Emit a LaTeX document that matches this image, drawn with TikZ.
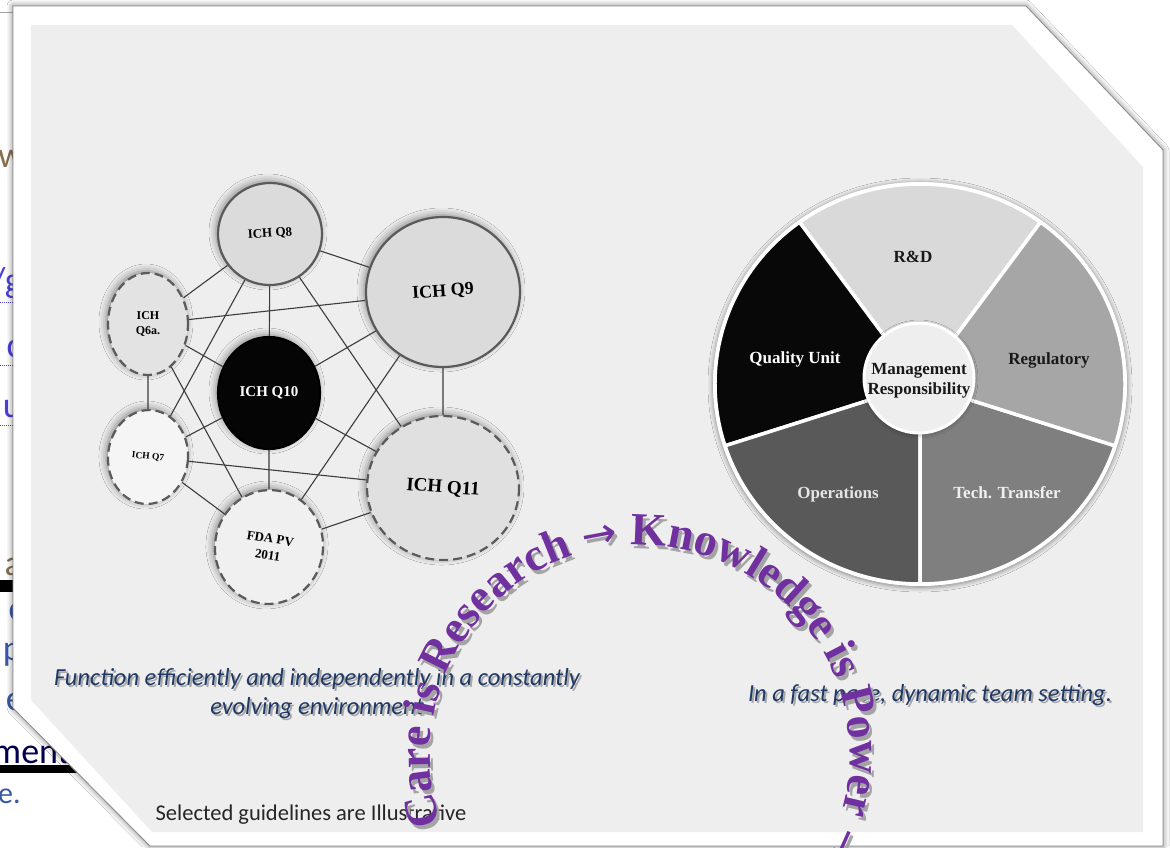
\documentclass[tikz,border=0pt]{standalone}
\usepackage{fontspec}
\setmainfont{Liberation Serif}
\newfontfamily\calfont{Carlito}
\newfontfamily\arcfont{Liberation Serif}
\newfontfamily\arrowfont{DejaVu Sans}
\usetikzlibrary{shapes.geometric,shadows.blur,decorations.text,calc}

\definecolor{panelgrey}{HTML}{EEEEEE}
\definecolor{rimgrey}{HTML}{5A5A5A}
\definecolor{linkgrey}{HTML}{3C3C3C}
\definecolor{navy}{HTML}{1F3864}
\definecolor{arcpurple}{HTML}{7030A0}
\definecolor{arcshade}{HTML}{A4A4A4}
\definecolor{linkblue}{HTML}{4A3FDC}
\definecolor{steelblue}{HTML}{3A58A8}
\definecolor{brownish}{HTML}{8A6E50}
\definecolor{segA}{HTML}{D9D9D9}
\definecolor{segB}{HTML}{A6A6A6}
\definecolor{segC}{HTML}{7F7F7F}
\definecolor{segD}{HTML}{595959}
\definecolor{segE}{HTML}{080808}

% formats for the circular motto
\newcommand{\mottoword}[1]{\arcfont\bfseries\fontsize{46}{46}\selectfont\color{#1}}
\newcommand{\mottoarrow}[1]{\arrowfont\fontsize{42}{46}\selectfont\color{#1}}

\begin{document}
\begin{tikzpicture}[x=1pt,y=-1pt,
  guide/.style={ellipse, inner sep=0pt, draw=rimgrey, line width=2.2pt,
    align=center, text=black,
    blur shadow={shadow xshift=-2pt, shadow yshift=2pt, shadow blur radius=7pt, shadow opacity=45}},
  dashrim/.style={guide, dash pattern=on 9pt off 5pt},
  link/.style={draw=linkgrey, line width=1.1pt},
  gfont/.style={font=\bfseries\fontsize{#1}{#1}\selectfont},
  slice/.style={draw=white, line width=3.5pt, line join=round},
  pielabel/.style={font=\bfseries\fontsize{17}{17}\selectfont, align=center},
  caption/.style={font=\calfont\itshape\fontsize{24.5}{29}\selectfont, align=center, text=navy},
  captionshade/.style={font=\calfont\itshape\fontsize{24.5}{29}\selectfont, align=center, text=black!35},
  frag/.style={font=\calfont\fontsize{36}{36}\selectfont, inner sep=0pt},
  fragline/.style={densely dotted, line width=1pt}
]
\useasboundingbox (0,0) rectangle (1170,847);

% ---------- page behind the frame ----------
\fill[white] (0,0) rectangle (1170,847);
\draw[black!35, line width=0.8pt] (0,12) -- (16,12);
\node[frag, anchor=base east, text=brownish] (fw) at (24,167) {w};
\node[frag, anchor=base east, text=linkblue] (fg) at (22,292) {/g};
\draw[fragline, linkblue] (0,302) -- (16,302);
\node[frag, anchor=base east, text=linkblue] (fc) at (22,357) {c};
\draw[fragline, linkblue] (0,365) -- (16,365);
\node[frag, anchor=base east, text=linkblue] (fu) at (22,417) {u};
\draw[fragline, linkblue] (0,425) -- (16,425);
\node[frag, anchor=base east, text=brownish] (fa) at (22,575) {a};
\fill[black] (0,580) rectangle (20,592);
\node[frag, anchor=base east, text=steelblue] (fc2) at (24,620) {c};
\node[frag, anchor=base east, text=steelblue] (fp) at (22,660) {p};
\node[frag, anchor=base east, text=steelblue] (fe) at (24,710) {e};
\node[frag, anchor=base east, text=black!70!blue] (fment) at (70,763) {ment};
\fill[black] (0,765) rectangle (90,773);
\node[frag, anchor=base west, text=steelblue, font=\calfont\fontsize{30}{30}\selectfont] (fdot) at (-2,803) {e.};

% ---------- octagonal frame and panel ----------
\fill[white, draw=black!45, line width=0.8pt,
  blur shadow={shadow xshift=0pt, shadow yshift=0pt, shadow blur radius=6pt, shadow opacity=55}]
  (13,6) -- (1026,6) -- (1163,150) -- (1163,846) -- (150,846) -- (13,708) -- cycle;
\fill[panelgrey] (31,25) -- (1012,25) -- (1143,167) -- (1143,832) -- (152,832) -- (31,700) -- cycle;

% ---------- network of guidelines ----------
\node[guide, fill=black!14, minimum width=104pt, minimum height=102pt, rotate=4, gfont=13] (q8) at (270,234) {ICH Q8};
\node[guide, fill=black!14, minimum width=154pt, minimum height=150pt, rotate=4, gfont=18] (q9) at (443,292) {ICH Q9};
\node[dashrim, fill=black!11, minimum width=80pt, minimum height=102pt, gfont=12] (q6a) at (148,324) {ICH\\[3pt]Q6a.};
\node[guide, draw=black, fill=black!98, text=white, minimum width=102pt, minimum height=112pt, gfont=15] (q10) at (269,393) {ICH Q10};
\node[dashrim, fill=black!4, minimum width=80pt, minimum height=94pt, rotate=-5, gfont=9.5] (q7) at (148,457) {ICH Q7};
\node[dashrim, fill=black!12, minimum width=152pt, minimum height=144pt, rotate=-4, gfont=19] (q11) at (443,488) {ICH Q11};
\node[dashrim, fill=black!6, minimum width=108pt, minimum height=114pt, rotate=-9, gfont=13] (fda) at (269,547) {FDA PV\\[4pt]2011};

\draw[link] (q8) -- (q9);
\draw[link] (q8) -- (q6a);
\draw[link] (q8) -- (q10);
\draw[link] (q8) -- (q7);
\draw[link] (q8) -- (q11);
\draw[link] (q6a) -- (q9);
\draw[link] (q6a) -- (q10);
\draw[link] (q6a) -- (q7);
\draw[link] (q6a) -- (fda);
\draw[link] (q9) -- (q10);
\draw[link] (q9) -- (q11);
\draw[link] (q9) -- (fda);
\draw[link] (q10) -- (q7);
\draw[link] (q10) -- (q11);
\draw[link] (q10) -- (fda);
\draw[link] (q7) -- (q11);
\draw[link] (q7) -- (fda);
\draw[link] (fda) -- (q11);

% ---------- functions wheel ----------
\coordinate (pc) at (920,384);
\fill[white, blur shadow={shadow xshift=0pt, shadow yshift=-1pt, shadow blur radius=5pt, shadow opacity=50}]
  (pc) ellipse [x radius=207, y radius=202];
\foreach \a/\b/\c in {54/126/segA, 126/198/segE, 198/270/segD, 270/342/segC, 342/414/segB}
  \filldraw[slice, fill=\c] (pc) -- ++({-\a}:205 and 200)
    arc[start angle=-\a, end angle=-\b, x radius=205, y radius=200] -- cycle;
\node[circle, fill=panelgrey, draw=white, line width=3pt, minimum size=110pt, inner sep=0pt,
  blur shadow={shadow xshift=0pt, shadow yshift=-1pt, shadow blur radius=4pt, shadow opacity=50}] (hub) at (919,378) {};
\node[pielabel, text=black!90] (rd) at (913,257) {R\&D};
\node[pielabel, text=white] (qu) at (795,359) {Quality Unit};
\node[pielabel, text=black!90] (reg) at (1049,360) {Regulatory};
\node[pielabel, text=black!10] (ops) at (838,494) {Operations};
\node[pielabel, text=black!6] (tt) at (1007,493) {Tech. Transfer};
\node[pielabel, text=black!90, font=\bfseries\fontsize{17}{20}\selectfont] (mgmt) at (919,381) {Management\\Responsibility};

% ---------- captions ----------
\node[captionshade] (capLs) at (319,696) {Function efficiently and independently in a constantly\\evolving environment};
\node[caption] (capL) at (317,694) {Function efficiently and independently in a constantly\\evolving environment};
\node[captionshade] (capRs) at (932,697) {In a fast pace, dynamic team setting.};
\node[caption] (capR) at (930,695) {In a fast pace, dynamic team setting.};
\node[font=\calfont\fontsize{22.5}{22.5}\selectfont, text=black!85] (note) at (311,815) {Selected guidelines are Illustrative};

% ---------- circular motto ----------
\path[decorate, decoration={text along path, text align=left,
    text={|\mottoword{arcshade}|Care is Research |\mottoarrow{arcshade}|→|\mottoword{arcshade}| Knowledge is Power |\mottoarrow{arcshade}|→}}]
  ($(643,759)+(-199:210)$) arc[start angle=-199, end angle=45, radius=210];
\path[decorate, decoration={text along path, text align=left,
    text={|\mottoword{arcpurple}|Care is Research |\mottoarrow{arcpurple}|→|\mottoword{arcpurple}| Knowledge is Power |\mottoarrow{arcpurple}|→}}]
  ($(640,755)+(-199:210)$) arc[start angle=-199, end angle=45, radius=210];
\end{tikzpicture}
\end{document}
